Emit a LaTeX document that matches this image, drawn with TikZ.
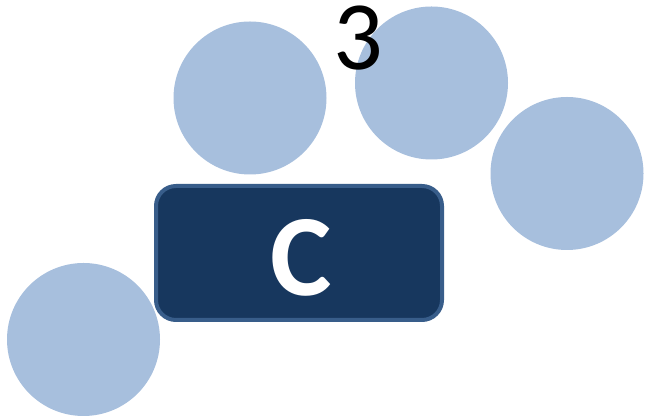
\documentclass[tikz,border=0pt]{standalone}
\usepackage{fontspec}
\setmainfont{Carlito}
\definecolor{circ}{HTML}{A7BFDD}
\definecolor{boxfill}{HTML}{17375E}
\definecolor{boxline}{HTML}{385D8A}
\begin{document}
\begin{tikzpicture}[x=1pt,y=1pt,
  bub/.style={circle,fill=circ,minimum size=153pt,inner sep=0pt},
  cbox/.style={rounded corners=20pt,fill=boxfill,draw=boxline,line width=4pt,minimum width=286pt,minimum height=134pt,inner sep=0pt}]
\useasboundingbox (0,0) rectangle (645,419);
\node[bub] (c1) at (250,321) {};
\node[bub] (c2) at (431.5,336) {};
\node[bub] (c3) at (567,245.5) {};
\node[bub] (c4) at (83.5,79.5) {};
\node[cbox] (box) at (299,166) {};
\node[anchor=base,inner sep=0pt,text=white,font=\fontsize{116}{116}\selectfont\bfseries] (clab) at (301,123.5) {C};
\node[anchor=base,inner sep=0pt,font=\fontsize{98}{98}\selectfont] (three) at (358,349) {3};
\end{tikzpicture}
\end{document}
